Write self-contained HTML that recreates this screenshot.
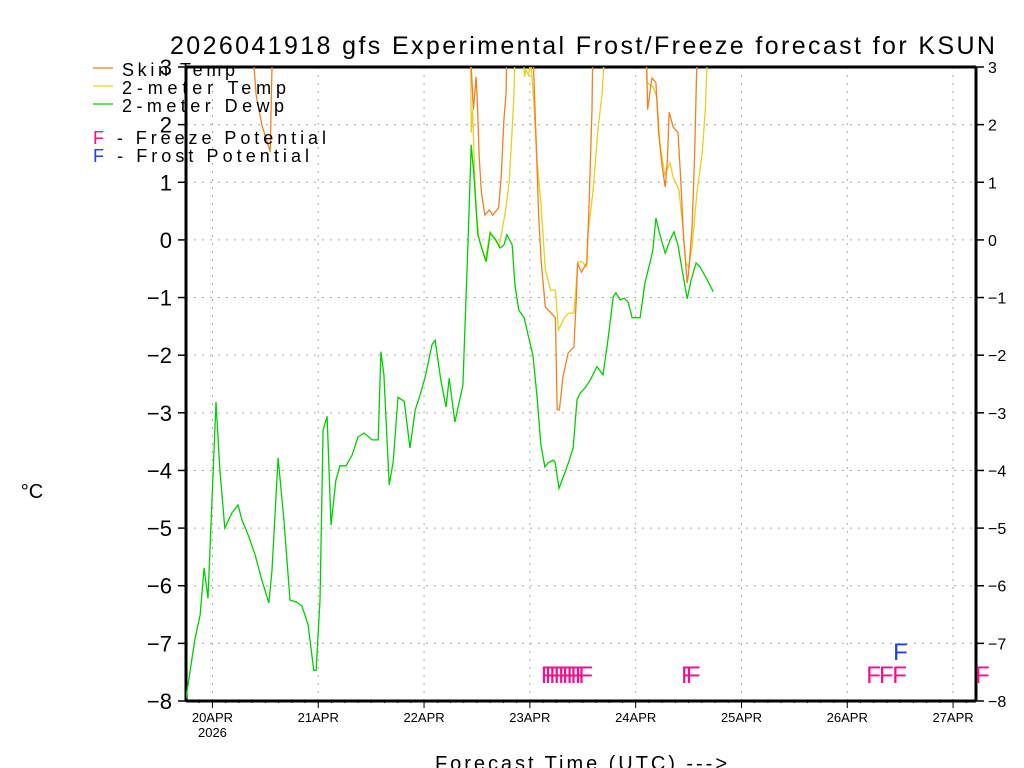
<!DOCTYPE html>
<html><head><meta charset="utf-8">
<style>
html,body{margin:0;padding:0;background:#fff;}
svg{display:block;font-family:"Liberation Sans",sans-serif;}
</style></head>
<body>
<svg id="chart" width="1024" height="768" viewBox="0 0 1024 768" xmlns="http://www.w3.org/2000/svg">
<defs><clipPath id="pc"><rect x="186" y="67" width="790" height="634"/></clipPath></defs>
<rect width="1024" height="768" fill="#fff"/>
<text x="170" y="54" font-size="25" textLength="825" lengthAdjust="spacing" fill="#000">2026041918 gfs Experimental Frost/Freeze forecast for KSUN</text>
<g id="grid"></g>
<g id="axes"></g>
<g id="series" clip-path="url(#pc)"></g>
<g id="marks"></g>
<text x="32" y="498" font-size="20" text-anchor="middle">°C</text>
<text x="435" y="770" font-size="20" textLength="292" lengthAdjust="spacing">Forecast Time (UTC) ---&gt;</text>
<g font-size="18">
<line x1="93" y1="68" x2="113" y2="68" stroke="#f08020" stroke-width="1.3"/>
<text x="122" y="76" textLength="113" lengthAdjust="spacing">Skin Temp</text>
<line x1="93" y1="86" x2="113" y2="86" stroke="#e6d020" stroke-width="1.3"/>
<text x="122" y="94" textLength="164" lengthAdjust="spacing">2-meter Temp</text>
<line x1="93" y1="104" x2="113" y2="104" stroke="#00d000" stroke-width="1.3"/>
<text x="122" y="112" textLength="162" lengthAdjust="spacing">2-meter Dewp</text>
<text x="93" y="144" textLength="233" lengthAdjust="spacing"><tspan fill="#f0108a">F</tspan> - Freeze Potential</text>
<text x="93" y="162" textLength="216" lengthAdjust="spacing"><tspan fill="#2040e0">F</tspan> - Frost Potential</text>
</g>
</svg>
<script>
const dewH=[0,2,3.2,4.1,5,5.9,6.8,7.7,8.8,10.4,11.8,12.7,14.1,15.7,17.2,18.8,19.5,20.9,22.2,23.6,25,26.3,27.7,29,29.5,30.4,31.1,32,32.9,34,34.9,36.3,37.7,39,40.4,42.2,43.6,44.2,44.9,46.1,47,48.1,49.5,50.8,52,53.1,54.2,55.8,56.5,57.8,59,59.7,61,62.8,64,64.7,65.3,66.2,67.2,68.1,69,70.3,71.2,72.1,72.8,74,74.6,75.5,76.7,77.6,78.7,79.6,80.5,81.4,82.1,83.3,83.7,84.6,85.5,86.2,87.1,87.8,88.7,89.4,90.5,91.7,93.2,94.6,95.7,96.9,97.5,98.5,99.4,100.3,101.2,103,104.1,105.3,105.9,106.6,107.5,108.7,109.8,110.7,111.6,112.8,113.7,114.6,115.7,116.6,118,119.6];
const dewV=[-7.95,-6.94,-6.51,-5.69,-6.22,-4.51,-2.81,-3.99,-5.0,-4.74,-4.6,-4.86,-5.12,-5.47,-5.9,-6.3,-5.73,-3.78,-4.86,-6.25,-6.28,-6.35,-6.68,-7.47,-7.47,-6.25,-3.3,-3.06,-4.95,-4.17,-3.92,-3.92,-3.73,-3.42,-3.35,-3.47,-3.47,-1.94,-2.34,-4.25,-3.85,-2.73,-2.8,-3.61,-2.95,-2.69,-2.4,-1.82,-1.74,-2.43,-2.9,-2.4,-3.16,-2.52,0,1.65,1.13,0.09,-0.17,-0.38,0.12,0,-0.14,-0.09,0.09,-0.09,-0.78,-1.22,-1.35,-1.65,-2.0,-2.69,-3.56,-3.94,-3.87,-3.82,-3.85,-4.31,-4.13,-3.99,-3.78,-3.61,-2.78,-2.66,-2.57,-2.43,-2.2,-2.34,-1.74,-0.99,-0.92,-1.04,-1.01,-1.08,-1.35,-1.35,-0.75,-0.38,-0.17,0.38,0.09,-0.23,0,0.14,-0.09,-0.64,-1.02,-0.69,-0.4,-0.47,-0.66,-0.9];
const skinH=[15,15.9,17.2,18.6,19.1,19.5,19.7,30,60,64.4,65.2,65.8,66.1,66.5,67,67.8,68.8,69.6,70.9,71.5,72.1,72.6,72.8,75,78.6,79.4,80,80.6,81.5,82.6,83.8,84.2,84.7,85.5,86.7,88,88.6,88.8,89.7,90.9,91.4,92.1,92.3,100,104.4,104.7,105.3,105.7,106.6,107.2,108,108.7,109.2,109.6,110.5,111.6,112.2,112.8,113.4,113.7,114,114.8,115.4,115.7,116,120];
const skinV=[3.47,2.52,2.0,1.65,1.53,3.0,3.47,8,8,3.47,2.26,2.83,2.38,1.44,0.82,0.43,0.52,0.43,0.56,1.09,2.08,2.55,3.47,8,3.47,1.79,0.4,-0.4,-1.16,-1.25,-1.35,-2.95,-2.95,-2.38,-1.96,-1.86,-0.92,-0.4,-0.56,-0.4,0.52,2.26,3.47,8,3.47,2.26,2.6,2.81,2.73,1.86,1.27,0.92,1.39,2.22,1.96,1.86,1.09,0.12,-0.47,-0.75,-0.57,0.23,1.51,2.55,3.47,8];
const t2H=[64.4,64.6,64.7,65,65.5,65.9,66.5,67.9,69,70.3,71.1,72.4,73.3,74.1,74.4,74.7,75.8,76.8,77.1,77.7,78.2,78.9,79.6,80.6,81.5,82.7,83.8,84.5,85.9,86.8,88,88.6,88.9,89.8,90.9,91.2,92.3,93.5,94.4,95.1,100,104.4,104.5,105.9,106.8,107.5,108.6,109.8,110.5,111.8,112.7,113.4,114,114.8,115.9,117.1,117.8,118.4,120];
const t2V=[8,3.0,1.86,2.26,1.04,0.47,0,-0.35,0.14,-0.03,-0.09,0.47,0.99,2.08,2.55,3.47,4,2.83,2.95,2.86,3.1,2.38,1.39,0.57,-0.52,-0.87,-0.87,-1.56,-1.34,-1.27,-1.27,-0.69,-0.38,-0.38,-0.47,0.12,0.82,1.96,2.55,3.47,8,3.47,2.73,2.66,2.48,1.68,1.13,1.34,1.09,0.87,0.23,-0.4,-0.47,-0.12,0.82,1.51,2.26,3.47,8];
const freezeH=[80.5,81.4,82.4,83.4,84.4,85.3,86.3,87.2,88.2,89.0,112.3,113.4,154.3,157.2,160.2,179];
const frostH=[160.4];
const yTicks=[3,2,1,0,-1,-2,-3,-4,-5,-6,-7,-8];
const dayLabels=["20APR","21APR","22APR","23APR","24APR","25APR","26APR","27APR"];
const dayHours=[6,30,54,78,102,126,150,174];

const X0=186,X1=976,Y0=67,Y1=701,HMAX=179.2,VMIN=-8,VMAX=3;
const NS="http://www.w3.org/2000/svg";
function xs(h){return X0+(h/HMAX)*(X1-X0);}
function ys(v){return Y1-(v-VMIN)/(VMAX-VMIN)*(Y1-Y0);}
function mk(tag,at,parent){const e=document.createElementNS(NS,tag);for(const k in at)e.setAttribute(k,at[k]);parent.appendChild(e);return e;}
const grid=document.getElementById('grid'),axes=document.getElementById('axes'),series=document.getElementById('series'),marks=document.getElementById('marks');

yTicks.forEach(v=>{
  const y=ys(v);
  if(v>VMIN&&v<VMAX){const g=mk('line',{x1:X0,x2:X1,y1:y,y2:y,stroke:'#aaa','stroke-width':1,'stroke-dasharray':'2,6'},grid);
  
  }
  const t1=mk('line',{x1:X0-8,x2:X0,y1:y,y2:y,stroke:'#000','stroke-width':1.5},axes);
  
  
  const t2=mk('line',{x1:X1,x2:X1+8,y1:y,y2:y,stroke:'#000','stroke-width':1.5},axes);
  
  
  const l=mk('text',{x:X0-14,y:y+8,'font-size':22,'text-anchor':'end'},axes);
  l.textContent=(v<0?'\u2212':'')+Math.abs(v);
  
  
  const r=mk('text',{x:X1+12,y:y+6,'font-size':16,'text-anchor':'start'},axes);
  r.textContent=(v<0?'\u2212':'')+Math.abs(v);
  
  
});
dayHours.forEach((h,i)=>{
  const x=xs(h);
  const g=mk('line',{x1:x,x2:x,y1:Y0,y2:Y1,stroke:'#aaa','stroke-width':1,'stroke-dasharray':'2,6'},grid);
  
  
  const t=mk('line',{x1:x,x2:x,y1:Y1,y2:Y1+7,stroke:'#000','stroke-width':1},axes);
  
  
  const l=mk('text',{x:x,y:Y1+21,'font-size':13,'text-anchor':'middle'},axes);
  l.textContent=dayLabels[i];
  
  
});
for(let h=3;h<HMAX;h+=3){const t=mk('line',{x1:xs(h),x2:xs(h),y1:Y1,y2:Y1+2,stroke:'#000','stroke-width':1},axes);
  
  }
const yr=mk('text',{x:xs(6),y:Y1+36,'font-size':13,'text-anchor':'middle'},axes);
yr.textContent='2026';


const fr=mk('rect',{x:X0,y:Y0,width:X1-X0,height:Y1-Y0,fill:'none',stroke:'#000','stroke-width':1.5},axes);


[[X0,Y0,X0,Y1],[X1,Y0,X1,Y1],[X0,Y1,X1,Y1],[X0,Y0,X1,Y0]].forEach(a=>{const l=mk('line',{x1:a[0],y1:a[1],x2:a[2],y2:a[3],stroke:'#000','stroke-width':3},axes);
  
  });

function line(H,V,color,name){
  const d=H.map((h,i)=>(i?'L':'M')+xs(h).toFixed(1)+','+ys(V[i]).toFixed(1)).join('');
  const p=mk('path',{d:d,fill:'none',stroke:color,'stroke-width':1.3},series);
  
  
}
line(t2H,t2V,'#e6d020','line-2m-temp');
line(skinH,skinV,'#f08020','line-skin-temp');
line(dewH,dewV,'#00d000','line-2m-dewp');

freezeH.forEach(h=>{const t=mk('text',{x:xs(h),y:683,'font-size':24,fill:'#f0108a'},marks);
  t.textContent='F';
  
  });
frostH.forEach(h=>{const t=mk('text',{x:xs(h),y:660,'font-size':24,fill:'#2040e0'},marks);
  t.textContent='F';
  
  });
</script>
</body></html>
